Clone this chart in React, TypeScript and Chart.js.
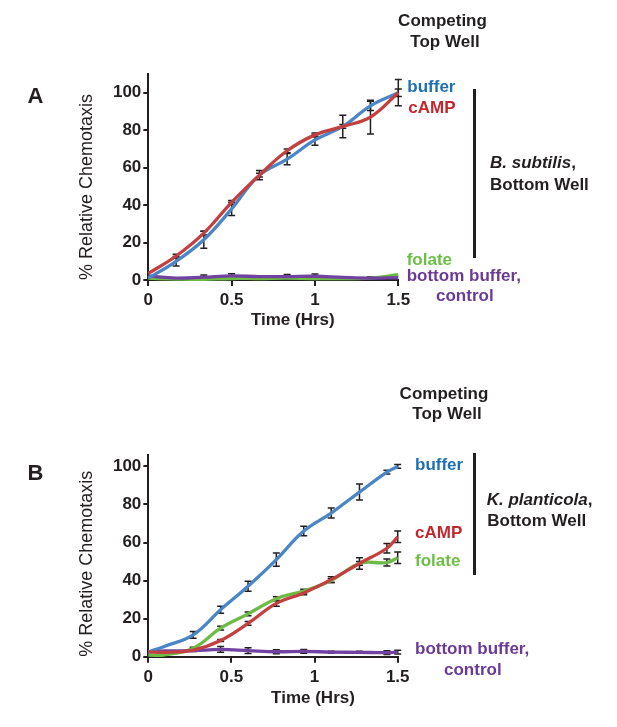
import React, { useEffect, useRef } from "react";
import { Chart, registerables } from "chart.js";

Chart.register(...registerables);

const FONT = "'Liberation Sans', Arial, Helvetica, sans-serif";
const INK = "#231f20";

const LINE_BLUE = "#4a86c6";
const LINE_RED = "#c43f3f";
const LINE_GREEN = "#6dbb45";
const LINE_PURPLE = "#7142a0";

const TXT_BLUE = "#1f6fb5";
const TXT_RED = "#c1272d";
const TXT_GREEN = "#6cbf45";
const TXT_PURPLE = "#6a3a96";

// ---------- Panel A (B. subtilis, bottom well) ----------
const timeA = [0, 0.167, 0.333, 0.5, 0.667, 0.833, 1, 1.167, 1.333, 1.5];
const bufferA = [1, 10, 21.5, 38, 56, 64.5, 74.8, 82, 93, 100];
const bufferErrA = [0, 2.5, 4.5, 3.5, 2.5, 3, 2.8, 6, 2.5, 7];
const campA = [3.5, 12.8, 25, 41.5, 56, 69, 77.5, 82, 87, 100];
const campErrA = [0, 1, 1, 1, 1, 1, 1, 1, 9, 2];
const folateA = [1.0, 0.5, 0.3, 0.8, 0.8, 1.0, 0.7, 0.8, 1.0, 2.8];
const folateErrA = [0, 0, 0, 0, 0, 0, 0, 0, 0, 0];
const controlA = [2.2, 1.0, 1.5, 2.2, 1.8, 1.8, 2.0, 1.4, 1.0, 1.2];
const controlErrA = [0, 0, 1.2, 1.2, 0, 1.2, 1.2, 0, 0.8, 0];

// ---------- Panel B (K. planticola, bottom well) ----------
const timeB = [0, 0.1, 0.27, 0.435, 0.6, 0.77, 0.935, 1.1, 1.27, 1.435, 1.5];
const bufferB = [2.5, 5.5, 11.5, 24.7, 37, 51, 66, 75.5, 86.5, 97, 100];
const bufferErrB = [0, 0, 1.8, 1.8, 2.6, 3.5, 2.5, 2.6, 4.2, 1, 1];
const campB = [2.5, 2.3, 3.5, 8.5, 17.5, 28, 33.5, 40.5, 49, 57, 63];
const campErrB = [0, 0, 0.5, 0.5, 1, 1.5, 1, 1.5, 1, 2.5, 3];
const folateB = [0.8, 1.0, 4.5, 15, 22.5, 30.5, 34.5, 40, 49, 49.5, 52];
const folateErrB = [0, 0, 0.5, 1, 1, 1, 1, 1, 3, 1.8, 3];
const controlB = [2.7, 3, 3.2, 3.8, 3.2, 2.6, 2.8, 2.4, 2.3, 2.1, 2.4];
const controlErrB = [0, 0, 0.5, 1.5, 1.5, 1, 1, 0.5, 0.5, 1, 1];

// axis ticks
const xTicks = [0, 0.5, 1, 1.5];
const yTicks = [0, 20, 40, 60, 80, 100];
const yTitle = "% Relative Chemotaxis";

const errorBarPlugin = {
  id: "errorBars",
  beforeDatasetsDraw(chart: any) {
    const ctx = chart.ctx;
    const xs = chart.scales.x;
    const ys = chart.scales.y;
    ctx.save();
    ctx.strokeStyle = INK;
    ctx.lineWidth = 1.5;
    chart.data.datasets.forEach((ds: any) => {
      const errs: number[] = ds.errors;
      if (!errs) return;
      ds.data.forEach((pt: any, i: number) => {
        const e = errs[i];
        if (!e) return;
        const x = xs.getPixelForValue(pt.x);
        const yTop = ys.getPixelForValue(pt.y + e);
        const yBot = ys.getPixelForValue(pt.y - e);
        ctx.beginPath();
        ctx.moveTo(x, yTop);
        ctx.lineTo(x, yBot);
        ctx.moveTo(x - 3.5, yTop);
        ctx.lineTo(x + 3.5, yTop);
        ctx.moveTo(x - 3.5, yBot);
        ctx.lineTo(x + 3.5, yBot);
        ctx.stroke();
      });
    });
    ctx.restore();
  },
};

function series(times: number[], vals: number[], errs: number[], color: string, order: number) {
  return {
    data: times.map((t, i) => ({ x: t, y: vals[i] })),
    errors: errs,
    borderColor: color,
    backgroundColor: color,
    borderWidth: 3.3,
    pointRadius: 0,
    tension: 0.4,
    fill: false,
    order,
    clip: false,
  };
}

type PanelSpec = {
  times: number[];
  buffer: number[];
  bufferErr: number[];
  camp: number[];
  campErr: number[];
  folate: number[];
  folateErr: number[];
  control: number[];
  controlErr: number[];
  yMax: number;
  pad: { left: number; right: number; top: number; bottom: number };
};

function makeConfig(p: PanelSpec): any {
  const tickFont = { family: FONT, size: 17, weight: "bold" as const };
  return {
    type: "line",
    data: {
      datasets: [
        series(p.times, p.camp, p.campErr, LINE_RED, 1),
        series(p.times, p.buffer, p.bufferErr, LINE_BLUE, 2),
        series(p.times, p.control, p.controlErr, LINE_PURPLE, 3),
        series(p.times, p.folate, p.folateErr, LINE_GREEN, 4),
      ],
    },
    options: {
      animation: false,
      responsive: false,
      events: [],
      layout: { padding: p.pad },
      plugins: { legend: { display: false }, tooltip: { enabled: false } },
      scales: {
        x: {
          type: "linear",
          min: 0,
          max: 1.5,
          afterFit: (s: any) => {
            s.height = 30;
          },
          afterBuildTicks: (s: any) => {
            s.ticks = xTicks.map((v) => ({ value: v }));
          },
          ticks: {
            callback: (v: any) => String(v),
            font: tickFont,
            color: INK,
            padding: 4,
            maxRotation: 0,
            autoSkip: false,
          },
          grid: { drawOnChartArea: false, tickLength: 6, color: INK, lineWidth: 2 },
          border: { color: INK, width: 2 },
        },
        y: {
          min: 0,
          max: p.yMax,
          afterFit: (s: any) => {
            s.width = 69.8;
          },
          afterBuildTicks: (s: any) => {
            s.ticks = yTicks.map((v) => ({ value: v }));
          },
          ticks: {
            callback: (v: any) => String(v),
            font: tickFont,
            color: INK,
            padding: 2,
          },
          title: {
            display: true,
            text: yTitle,
            align: "start",
            color: INK,
            font: { family: FONT, size: 18, lineHeight: 1 },
            padding: 0,
          },
          grid: { drawOnChartArea: false, tickLength: 5, color: INK, lineWidth: 2 },
          border: { color: INK, width: 2 },
        },
      },
    },
    plugins: [errorBarPlugin],
  };
}

function ChartCanvas({ spec, top, height }: { spec: PanelSpec; top: number; height: number }) {
  const ref = useRef<HTMLCanvasElement | null>(null);
  useEffect(() => {
    if (!ref.current) return;
    const chart = new Chart(ref.current, makeConfig(spec));
    return () => chart.destroy();
  }, []);
  return (
    <canvas
      ref={ref}
      width={617}
      height={height}
      style={{ position: "absolute", left: 0, top, width: 617, height }}
    />
  );
}

type TxtProps = {
  x: number;
  base: number;
  children: React.ReactNode;
  color?: string;
  size?: number;
  center?: boolean;
  italic?: boolean;
};

function Txt({ x, base, children, color = INK, size = 17, center = false, italic = false }: TxtProps) {
  const top = base - 0.8465 * size;
  const style: React.CSSProperties = {
    position: "absolute",
    top,
    fontFamily: FONT,
    fontWeight: "bold",
    fontSize: size,
    lineHeight: `${size}px`,
    color,
    whiteSpace: "nowrap",
    fontStyle: italic ? "italic" : "normal",
  };
  if (center) {
    style.left = x - 150;
    style.width = 300;
    style.textAlign = "center";
  } else {
    style.left = x;
  }
  return <div style={style}>{children}</div>;
}

function VBar({ x, top, bottom }: { x: number; top: number; bottom: number }) {
  return (
    <div
      style={{
        position: "absolute",
        left: x - 1.5,
        top,
        width: 3,
        height: bottom - top,
        background: INK,
      }}
    />
  );
}

const panelA: PanelSpec = {
  times: timeA,
  buffer: bufferA,
  bufferErr: bufferErrA,
  camp: campA,
  campErr: campErrA,
  folate: folateA,
  folateErr: folateErrA,
  control: controlA,
  controlErr: controlErrA,
  yMax: 110,
  pad: { left: 78.5, right: 218.7, top: 74, bottom: 35 },
};

const panelB: PanelSpec = {
  times: timeB,
  buffer: bufferB,
  bufferErr: bufferErrB,
  camp: campB,
  campErr: campErrB,
  folate: folateB,
  folateErr: folateErrB,
  control: controlB,
  controlErr: controlErrB,
  yMax: 106,
  pad: { left: 78.5, right: 219.3, top: 85, bottom: 40.3 },
};

export default function App() {
  return (
    <div style={{ position: "absolute", left: 0, top: 0, width: 617, height: 727, background: "#fff", overflow: "hidden" }}>
      <ChartCanvas spec={panelA} top={0} height={345} />
      <ChartCanvas spec={panelB} top={370} height={357} />

      {/* Panel A annotations */}
      <Txt x={35.5} base={103.3} size={22} center>A</Txt>
      <Txt x={442.5} base={26.7} center>Competing</Txt>
      <Txt x={445} base={47.3} center>Top Well</Txt>
      <Txt x={407.3} base={92.7} color={TXT_BLUE}>buffer</Txt>
      <Txt x={408.3} base={113.3} color={TXT_RED}>cAMP</Txt>
      <Txt x={406.7} base={265} color={TXT_GREEN}>folate</Txt>
      <Txt x={406.7} base={281} color={TXT_PURPLE}>bottom buffer,</Txt>
      <Txt x={436} base={301.7} color={TXT_PURPLE}>control</Txt>
      <VBar x={474} top={89.3} bottom={258.3} />
      <Txt x={490} base={168.3}>
        <span style={{ fontStyle: "italic" }}>B. subtilis</span>,
      </Txt>
      <Txt x={490} base={190}>Bottom Well</Txt>
      <Txt x={292.8} base={325} center>Time (Hrs)</Txt>

      {/* Panel B annotations */}
      <Txt x={35.5} base={481} size={22} center>B</Txt>
      <Txt x={444} base={399.3} center>Competing</Txt>
      <Txt x={447} base={419.3} center>Top Well</Txt>
      <Txt x={415} base={470.7} color={TXT_BLUE}>buffer</Txt>
      <Txt x={415} base={538.3} color={TXT_RED}>cAMP</Txt>
      <Txt x={415} base={566} color={TXT_GREEN}>folate</Txt>
      <Txt x={415} base={654} color={TXT_PURPLE}>bottom buffer,</Txt>
      <Txt x={444} base={675} color={TXT_PURPLE}>control</Txt>
      <VBar x={474.3} top={453.3} bottom={575} />
      <Txt x={486.7} base={505}>
        <span style={{ fontStyle: "italic" }}>K. planticola</span>,
      </Txt>
      <Txt x={487.3} base={526}>Bottom Well</Txt>
      <Txt x={313} base={703.3} center>Time (Hrs)</Txt>
    </div>
  );
}
